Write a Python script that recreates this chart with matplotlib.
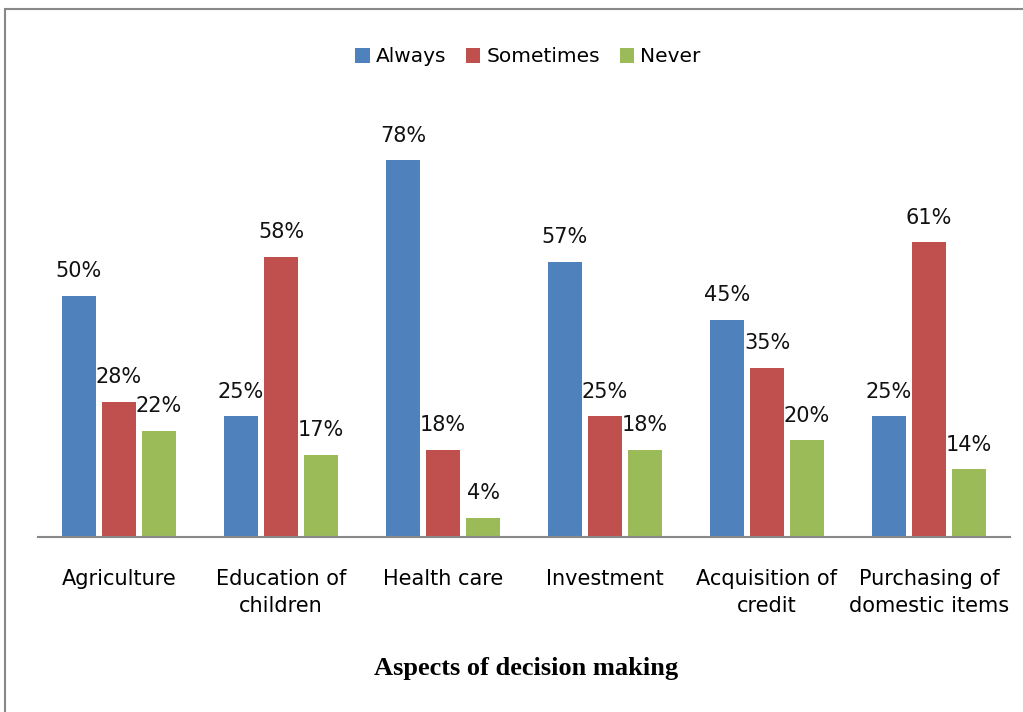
import matplotlib
matplotlib.use("Agg")
import matplotlib.pyplot as plt
import numpy as np
from matplotlib.patches import Rectangle

categories = ["Agriculture", "Education of\nchildren", "Health care", "Investment",
              "Acquisition of\ncredit", "Purchasing of\ndomestic items"]
series_names = ["Always", "Sometimes", "Never"]
always = [50, 25, 78, 57, 45, 25]
sometimes = [28, 58, 18, 25, 35, 61]
never = [22, 17, 4, 18, 20, 14]
colors = ["#4F81BD", "#C0504D", "#9BBB59"]

W, H = 1023, 712
fig = plt.figure(figsize=(W / 100, H / 100), dpi=100)
font = ["DejaVu Sans"]

# figure border
fig.patches.append(Rectangle((5 / W, -0.05), 1.2, (H - 9) / H + 0.05, transform=fig.transFigure,
                             fill=False, edgecolor="#888888", linewidth=1.5))

left, right = 38, 1010
base, top = 537, 102
ax = fig.add_axes([left / W, (H - base) / H, (right - left) / W, (base - top) / H])
ymax = (base - top) / 4.83
ax.set_ylim(0, ymax)
ax.set_xlim(-0.5, len(categories) - 0.5)

x = np.arange(len(categories))
bw = 0.204
off = 0.247
for i, (name, vals) in enumerate(zip(series_names, [always, sometimes, never])):
    bars = ax.bar(x + (i - 1) * off, vals, bw, color=colors[i], label=name)
    for b, v in zip(bars, vals):
        ax.annotate(f"{v}%", (b.get_x() + b.get_width() / 2, v), xytext=(0, 10.5),
                    textcoords="offset points", ha="center", va="bottom",
                    fontsize=15, family=font, color="#111111")

for s in ["top", "right", "left"]:
    ax.spines[s].set_visible(False)
ax.spines["bottom"].set_color("#888888")
ax.spines["bottom"].set_linewidth(1.5)
ax.set_yticks([])
ax.set_xticks(x)
ax.set_xticklabels(categories, fontsize=15, family=font, linespacing=1.45)
ax.tick_params(axis="x", length=0, pad=23)

fig.text(0.5 + 15 / W, 1 - 668 / H, "Aspects of decision making", ha="center", va="center",
         fontsize=19, fontweight="bold", family=["Liberation Serif", "DejaVu Serif"])

leg = fig.legend(loc="center", bbox_to_anchor=(528 / W, 1 - 57 / H), ncol=3, frameon=False,
                 prop={"family": font, "size": 14.5}, handlelength=0.7, handleheight=0.8,
                 handletextpad=0.3, columnspacing=1.0)

fig.savefig("out.png", dpi=100)
